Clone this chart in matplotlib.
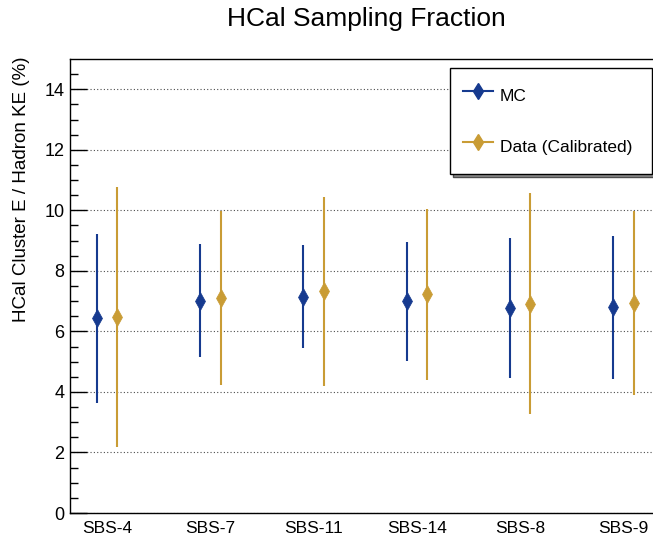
import numpy as np
import matplotlib
matplotlib.use('Agg')
import matplotlib.pyplot as plt
from matplotlib.lines import Line2D

plt.rcParams['font.family'] = ['Liberation Sans', 'DejaVu Sans']

# values
configs = ['SBS-4', 'SBS-7', 'SBS-11', 'SBS-14', 'SBS-8', 'SBS-9']
mc_mean = [6.43, 7.02, 7.15, 6.99, 6.77, 6.79]
mc_err = [2.78, 1.88, 1.71, 1.98, 2.32, 2.35]
data_mean = [6.47, 7.10, 7.32, 7.22, 6.91, 6.94]
data_err = [4.30, 2.88, 3.11, 2.84, 3.65, 3.05]

blue = '#163a8f'
gold = '#c99c35'

fig = plt.figure(figsize=(6.53, 5.37), dpi=100)
ax = fig.add_axes([70/653, 24/537, 583/653, 454/537])

x = np.arange(len(configs))
ax.errorbar(x - 0.1, mc_mean, yerr=mc_err, fmt='d', color=blue, ecolor=blue,
            elinewidth=1.5, capsize=0, markersize=9, markeredgewidth=0.5,
            markeredgecolor=blue, zorder=3)
ax.errorbar(x + 0.1, data_mean, yerr=data_err, fmt='d', color=gold, ecolor=gold,
            elinewidth=1.5, capsize=0, markersize=9, markeredgewidth=0.5,
            markeredgecolor=gold, zorder=3)

ax.set_xlim(-0.358, 5.286)
ax.set_ylim(0, 15)
ax.set_xticks(x)
ax.set_xticklabels(configs, fontsize=12.5)
ax.set_yticks(np.arange(0, 15, 2))
ax.set_yticks(np.arange(0, 15, 0.5), minor=True)
ax.tick_params(axis='x', length=0, pad=6)
ax.tick_params(axis='y', which='major', direction='in', length=12, width=1,
               labelsize=13, pad=4)
ax.tick_params(axis='y', which='minor', direction='in', length=5.5, width=1)
ax.spines['right'].set_visible(False)
for s in ['left', 'top', 'bottom']:
    ax.spines[s].set_linewidth(1)
ax.yaxis.grid(True, which='major', linestyle=(0, (1, 2)), color='0.3', linewidth=0.8)
ax.set_axisbelow(True)

handles = [Line2D([], [], color=blue, marker='d', markersize=8, lw=1.5),
           Line2D([], [], color=gold, marker='d', markersize=8, lw=1.5)]
leg = ax.legend(handles, ['MC', 'Data (Calibrated)'], loc='upper left',
                bbox_to_anchor=(0.652, 0.747, 0.346, 0.233), mode='expand',
                borderaxespad=0, fontsize=12.5, labelspacing=1.25, borderpad=0.75,
                handlelength=1.7, handleheight=2.2, handletextpad=0.4,
                fancybox=False, shadow={'facecolor': '0.55', 'alpha': 1})
leg.get_frame().set_edgecolor('black')
leg.get_frame().set_linewidth(1)

fig.text(366/653, 1 - 19/537, 'HCal Sampling Fraction', ha='center', va='center',
         fontsize=19)
fig.text(21.5/653, 1 - 189/537, 'HCal Cluster E / Hadron KE (%)', rotation=90,
         ha='center', va='center', fontsize=13.5)

fig.savefig('out.png', dpi=100)
